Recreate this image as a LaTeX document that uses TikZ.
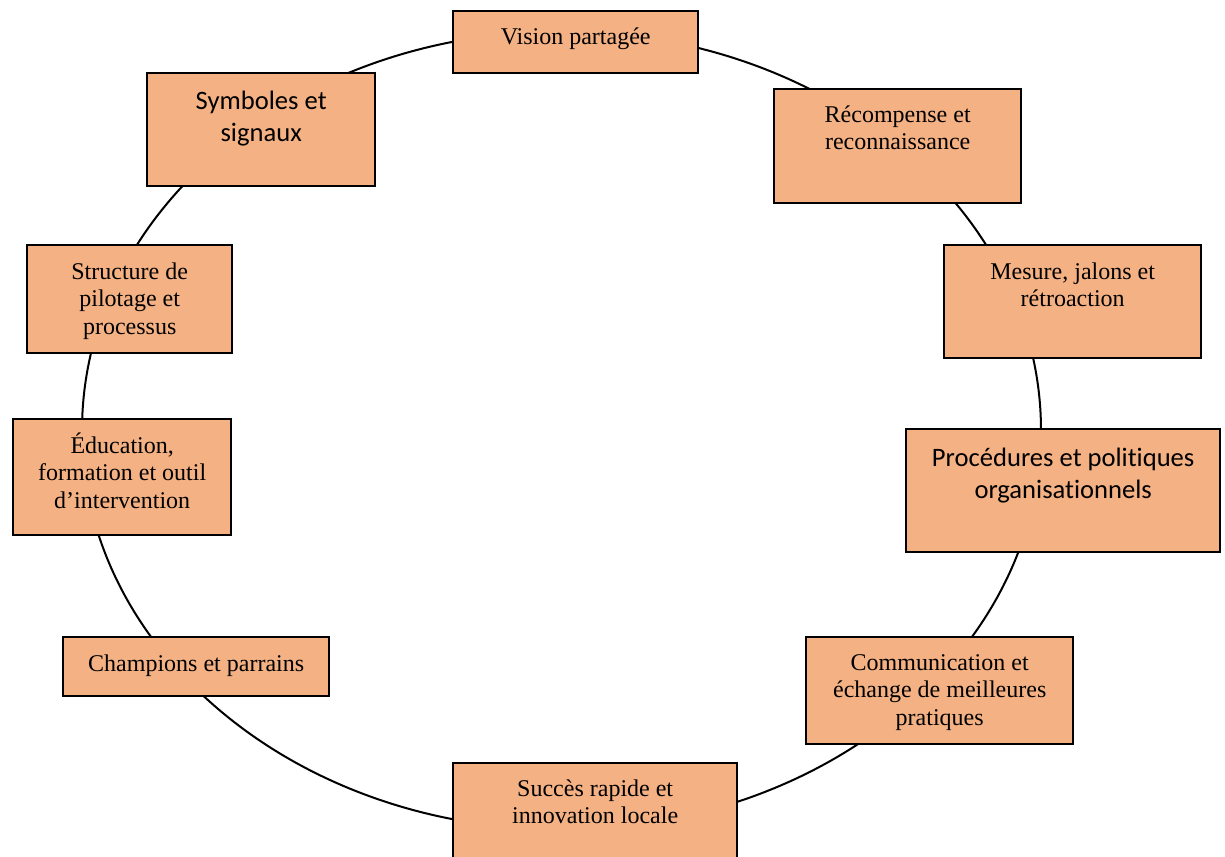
\documentclass[tikz,border=0pt]{standalone}
\usepackage{fontspec}
\setmainfont{Liberation Serif}
\newfontfamily\calfont[Ligatures=NoCommon]{Carlito}
\definecolor{boxfill}{HTML}{F4B183}
\newcommand{\boxtext}[4]{\parbox[c][#2][t]{#1}{\centering\rule{0pt}{#3}#4}}
\tikzset{
  stage/.style={draw=black, line width=1.2pt, fill=boxfill, inner sep=0pt, anchor=north west,
    font=\fontsize{12}{13.8}\selectfont},
  stagecal/.style={stage, font=\calfont\fontsize{13.3}{16}\selectfont},
  ring/.style={draw=black, line width=1pt}
}
\begin{document}
\begin{tikzpicture}[x=0.5pt,y=-0.5pt]
\useasboundingbox (0,0) rectangle (1225,856);
\draw[ring] (561.5,430.5) ellipse [x radius=239.75pt, y radius=199.5pt];
\node[stage] (vision) at (452,10) {\boxtext{122.5pt}{31pt}{16.5pt}{Vision partagée}};
\node[stage] (recomp) at (773,88) {\boxtext{123.5pt}{57pt}{16.5pt}{Récompense et\\reconnaissance}};
\node[stage] (mesure) at (943,244) {\boxtext{128.5pt}{56.5pt}{17pt}{Mesure, jalons et\\rétroaction}};
\node[stagecal] (proc) at (905,428) {\boxtext{157pt}{61.5pt}{18.5pt}{Procédures et politiques\\organisationnels}};
\node[stage] (comm) at (805,636) {\boxtext{133.5pt}{53.5pt}{16.5pt}{Communication et\\échange de meilleures\\pratiques}};
\node[stage] (succes) at (452,762) {\boxtext{142pt}{60pt}{16.5pt}{Succès rapide et\\innovation locale}};
\node[stage] (champ) at (62,636) {\boxtext{133pt}{29.5pt}{17pt}{Champions et parrains}};
\node[stage] (educ) at (12,418) {\boxtext{109pt}{58pt}{17pt}{Éducation,\\formation et outil\\d’intervention}};
\node[stage] (struct) at (26,244) {\boxtext{102.5pt}{54pt}{17pt}{Structure de\\pilotage et\\processus}};
\node[stagecal] (symb) at (146,72) {\boxtext{114pt}{56.5pt}{18pt}{Symboles et\\signaux}};
\end{tikzpicture}
\end{document}
